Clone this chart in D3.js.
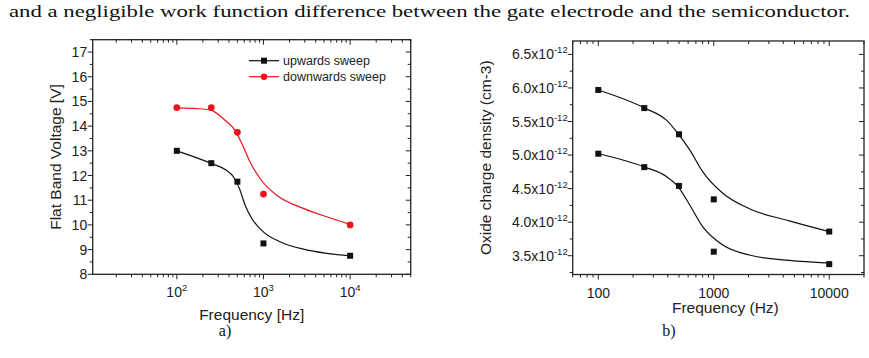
<!DOCTYPE html>
<html>
<head>
<meta charset="utf-8">
<script src="https://cdn.jsdelivr.net/npm/d3@7"></script>
<style>
  body { margin: 0; background: #fff; }
  svg { display: block; }
  text { font-family: "Liberation Sans", Arial, sans-serif; fill: #222; }
  .serif { font-family: "Liberation Serif", "DejaVu Serif", serif; fill: #111; }
</style>
</head>
<body>
<div id="my-svg"></div>
<script>
// ---- data ----
const freqs = [100, 250, 500, 1000, 10000];

// chart a) flat band voltage [V]
const upwards = [13.0, 12.5, 11.75, 9.25, 8.75];
const downwards = [14.75, 14.75, 13.75, 11.25, 10.0];
// fitted curves: [frequency, value]
const upwardsFit = [[100, 13.0], [250, 12.49], [370, 12.22], [450, 11.95], [537, 11.4], [614, 10.8], [733, 10.26],
  [997, 9.72], [1550, 9.32], [2880, 9.02], [5370, 8.85], [10000, 8.75]];
const downwardsFit = [[100, 14.74], [170, 14.71], [250, 14.64], [360, 14.24], [470, 13.83], [562, 13.3],
  [700, 12.55], [912, 11.88], [1422, 11.2], [2880, 10.67], [5370, 10.33], [10000, 10.02]];
const voltTicks = [8, 9, 10, 11, 12, 13, 14, 15, 16, 17];

// chart b) oxide charge density, in units of 1e-12
const upper = [5.97, 5.70, 5.31, 4.34, 3.86];
const lower = [5.02, 4.82, 4.54, 3.56, 3.375];
const upperFit = [[100, 5.97], [253, 5.70], [389, 5.52], [490, 5.32], [617, 5.08], [804, 4.75],
  [1197, 4.43], [2032, 4.20], [4500, 4.02], [10000, 3.86]];
const lowerFit = [[100, 5.02], [253, 4.82], [389, 4.68], [490, 4.53], [617, 4.26], [804, 3.93],
  [1197, 3.66], [2032, 3.51], [4500, 3.43], [10000, 3.39]];
const densTicks = [3.5, 4.0, 4.5, 5.0, 5.5, 6.0, 6.5];

const legendLabels = ["upwards sweep", "downwards sweep"];

const width = 869, height = 358;
const svg = d3.select("#my-svg").append("svg")
  .attr("width", width).attr("height", height);

// text line above the charts
svg.append("text").attr("class", "serif")
  .attr("x", 9).attr("y", 17)
  .attr("font-size", 16)
  .attr("textLength", 841).attr("lengthAdjust", "spacingAndGlyphs")
  .text("and a negligible work function difference between the gate electrode and the semiconductor.");

function logMinor(domain) {
  const out = [];
  for (let e = 0; e <= 5; e++) {
    for (let m = 1; m <= 9; m++) {
      const v = m * Math.pow(10, e);
      if (v >= domain[0] && v <= domain[1]) out.push(v);
    }
  }
  return out;
}

function drawPanel(cfg) {
  const g = svg.append("g");
  const x = d3.scaleLog().domain(cfg.xDomain).range([cfg.left, cfg.right]);
  const y = d3.scaleLinear().domain(cfg.yDomain).range([cfg.bottom, cfg.top]);

  const xMajor = cfg.xMajor;
  const xMinor = logMinor(cfg.xDomain).filter(v => !xMajor.includes(v));
  const yMajor = cfg.yMajor;
  const yMinorAll = [];
  for (let v = Math.ceil(cfg.yDomain[0] / cfg.yMinorStep) * cfg.yMinorStep; v <= cfg.yDomain[1]; v += cfg.yMinorStep) {
    const r = +v.toFixed(3);
    if (!yMajor.some(m => Math.abs(m - r) < 1e-6)) yMinorAll.push(r);
  }

  const ticks = g.append("g").attr("stroke", "#222").attr("stroke-width", 1);
  // bottom (outward) and top (inward)
  xMajor.forEach(v => {
    ticks.append("line").attr("x1", x(v)).attr("x2", x(v)).attr("y1", cfg.bottom).attr("y2", cfg.bottom + 5);
    ticks.append("line").attr("x1", x(v)).attr("x2", x(v)).attr("y1", cfg.top).attr("y2", cfg.top + 5);
  });
  xMinor.forEach(v => {
    ticks.append("line").attr("x1", x(v)).attr("x2", x(v)).attr("y1", cfg.bottom).attr("y2", cfg.bottom + 3);
    ticks.append("line").attr("x1", x(v)).attr("x2", x(v)).attr("y1", cfg.top).attr("y2", cfg.top + 3);
  });
  // left (outward) and right (inward)
  yMajor.forEach(v => {
    ticks.append("line").attr("x1", cfg.left - 5).attr("x2", cfg.left).attr("y1", y(v)).attr("y2", y(v));
    ticks.append("line").attr("x1", cfg.right - 5).attr("x2", cfg.right).attr("y1", y(v)).attr("y2", y(v));
  });
  yMinorAll.forEach(v => {
    ticks.append("line").attr("x1", cfg.left - 3).attr("x2", cfg.left).attr("y1", y(v)).attr("y2", y(v));
    ticks.append("line").attr("x1", cfg.right - 3).attr("x2", cfg.right).attr("y1", y(v)).attr("y2", y(v));
  });

  // frame
  g.append("rect")
    .attr("x", cfg.left).attr("y", cfg.top)
    .attr("width", cfg.right - cfg.left).attr("height", cfg.bottom - cfg.top)
    .attr("fill", "none").attr("stroke", "#222").attr("stroke-width", 1.3);

  // x tick labels
  xMajor.forEach(v => {
    const t = g.append("text").attr("x", x(v)).attr("y", cfg.bottom + 23)
      .attr("text-anchor", "middle").attr("font-size", 14);
    cfg.xLabel(t, v);
  });
  // y tick labels
  yMajor.forEach(v => {
    const t = g.append("text").attr("x", cfg.left - cfg.yLabelGap).attr("y", y(v) + 5)
      .attr("text-anchor", "end").attr("font-size", cfg.yTickSize);
    cfg.yLabel(t, v);
  });

  // axis titles
  g.append("text").attr("x", (cfg.left + cfg.right) / 2 + cfg.xTitleDx).attr("y", cfg.xTitleY)
    .attr("text-anchor", "middle").attr("font-size", 15.5).text(cfg.xTitle);
  g.append("text")
    .attr("transform", `translate(${cfg.yTitleX},${(cfg.top + cfg.bottom) / 2}) rotate(-90)`)
    .attr("text-anchor", "middle").attr("font-size", 15.5).text(cfg.yTitle);

  const line = d3.line().x(d => x(d[0])).y(d => y(d[1])).curve(d3.curveMonotoneX);

  cfg.series.forEach(s => {
    g.append("path").datum(s.fit)
      .attr("d", line).attr("fill", "none")
      .attr("stroke", s.color).attr("stroke-width", 1.2);
    if (s.shape === "square") {
      g.selectAll(null).data(s.values).join("rect")
        .attr("x", (d, i) => x(freqs[i]) - 3).attr("y", d => y(d) - 3)
        .attr("width", 6).attr("height", 6).attr("fill", s.color);
    } else {
      g.selectAll(null).data(s.values).join("circle")
        .attr("cx", (d, i) => x(freqs[i])).attr("cy", d => y(d))
        .attr("r", 3.4).attr("fill", s.color);
    }
  });
  return { g, x, y };
}

// ---- panel a ----
const pa = drawPanel({
  left: 92.7, right: 410.7, top: 39.7, bottom: 274.3,
  xDomain: [10.7, 50000], yDomain: [8, 17.5],
  xMajor: [100, 1000, 10000], yMajor: voltTicks, yMinorStep: 0.5,
  yLabelGap: 5.5, yTickSize: 14,
  xLabel: (t, v) => {
    t.append("tspan").text("10");
    t.append("tspan").attr("dy", -6).attr("font-size", 9.5).text(Math.round(Math.log10(v)));
  },
  yLabel: (t, v) => t.text(v),
  xTitle: "Frequency [Hz]", xTitleY: 320, xTitleDx: 0,
  yTitle: "Flat Band Voltage [V]", yTitleX: 61,
  series: [
    { values: upwards, fit: upwardsFit, color: "#111", shape: "square" },
    { values: downwards, fit: downwardsFit, color: "#e8131b", shape: "circle" }
  ]
});

// legend
const legend = pa.g.append("g");
legendLabels.forEach((lab, i) => {
  const ly = 60.7 + i * 16;
  const col = i === 0 ? "#111" : "#e8131b";
  legend.append("line").attr("x1", 249).attr("x2", 279).attr("y1", ly).attr("y2", ly)
    .attr("stroke", col).attr("stroke-width", 1.2);
  if (i === 0) {
    legend.append("rect").attr("x", 261).attr("y", ly - 3).attr("width", 6).attr("height", 6).attr("fill", col);
  } else {
    legend.append("circle").attr("cx", 264).attr("cy", ly).attr("r", 3.2).attr("fill", col);
  }
  legend.append("text").attr("x", 283).attr("y", ly + 4.5).attr("font-size", 12.5).text(lab);
});

// ---- panel b ----
drawPanel({
  left: 572.7, right: 864, top: 41, bottom: 274.5,
  xDomain: [60, 20000], yDomain: [3.22, 6.7],
  xMajor: [100, 1000, 10000], yMajor: densTicks, yMinorStep: 0.25,
  yLabelGap: 5, yTickSize: 14,
  xLabel: (t, v) => t.text(v),
  yLabel: (t, v) => {
    t.append("tspan").text(v.toFixed(1) + "x10");
    t.append("tspan").attr("dy", -6).attr("font-size", 9.5).text("-12");
  },
  xTitle: "Frequency (Hz)", xTitleY: 313, xTitleDx: 7,
  yTitle: "Oxide charge density (cm-3)", yTitleX: 491,
  series: [
    { values: upper, fit: upperFit, color: "#111", shape: "square" },
    { values: lower, fit: lowerFit, color: "#111", shape: "square" }
  ]
});

// panel captions
svg.append("text").attr("class", "serif").attr("x", 225).attr("y", 336)
  .attr("text-anchor", "middle").attr("font-size", 16).text("a)");
svg.append("text").attr("class", "serif").attr("x", 669).attr("y", 336)
  .attr("text-anchor", "middle").attr("font-size", 16).text("b)");
</script>
</body>
</html>
